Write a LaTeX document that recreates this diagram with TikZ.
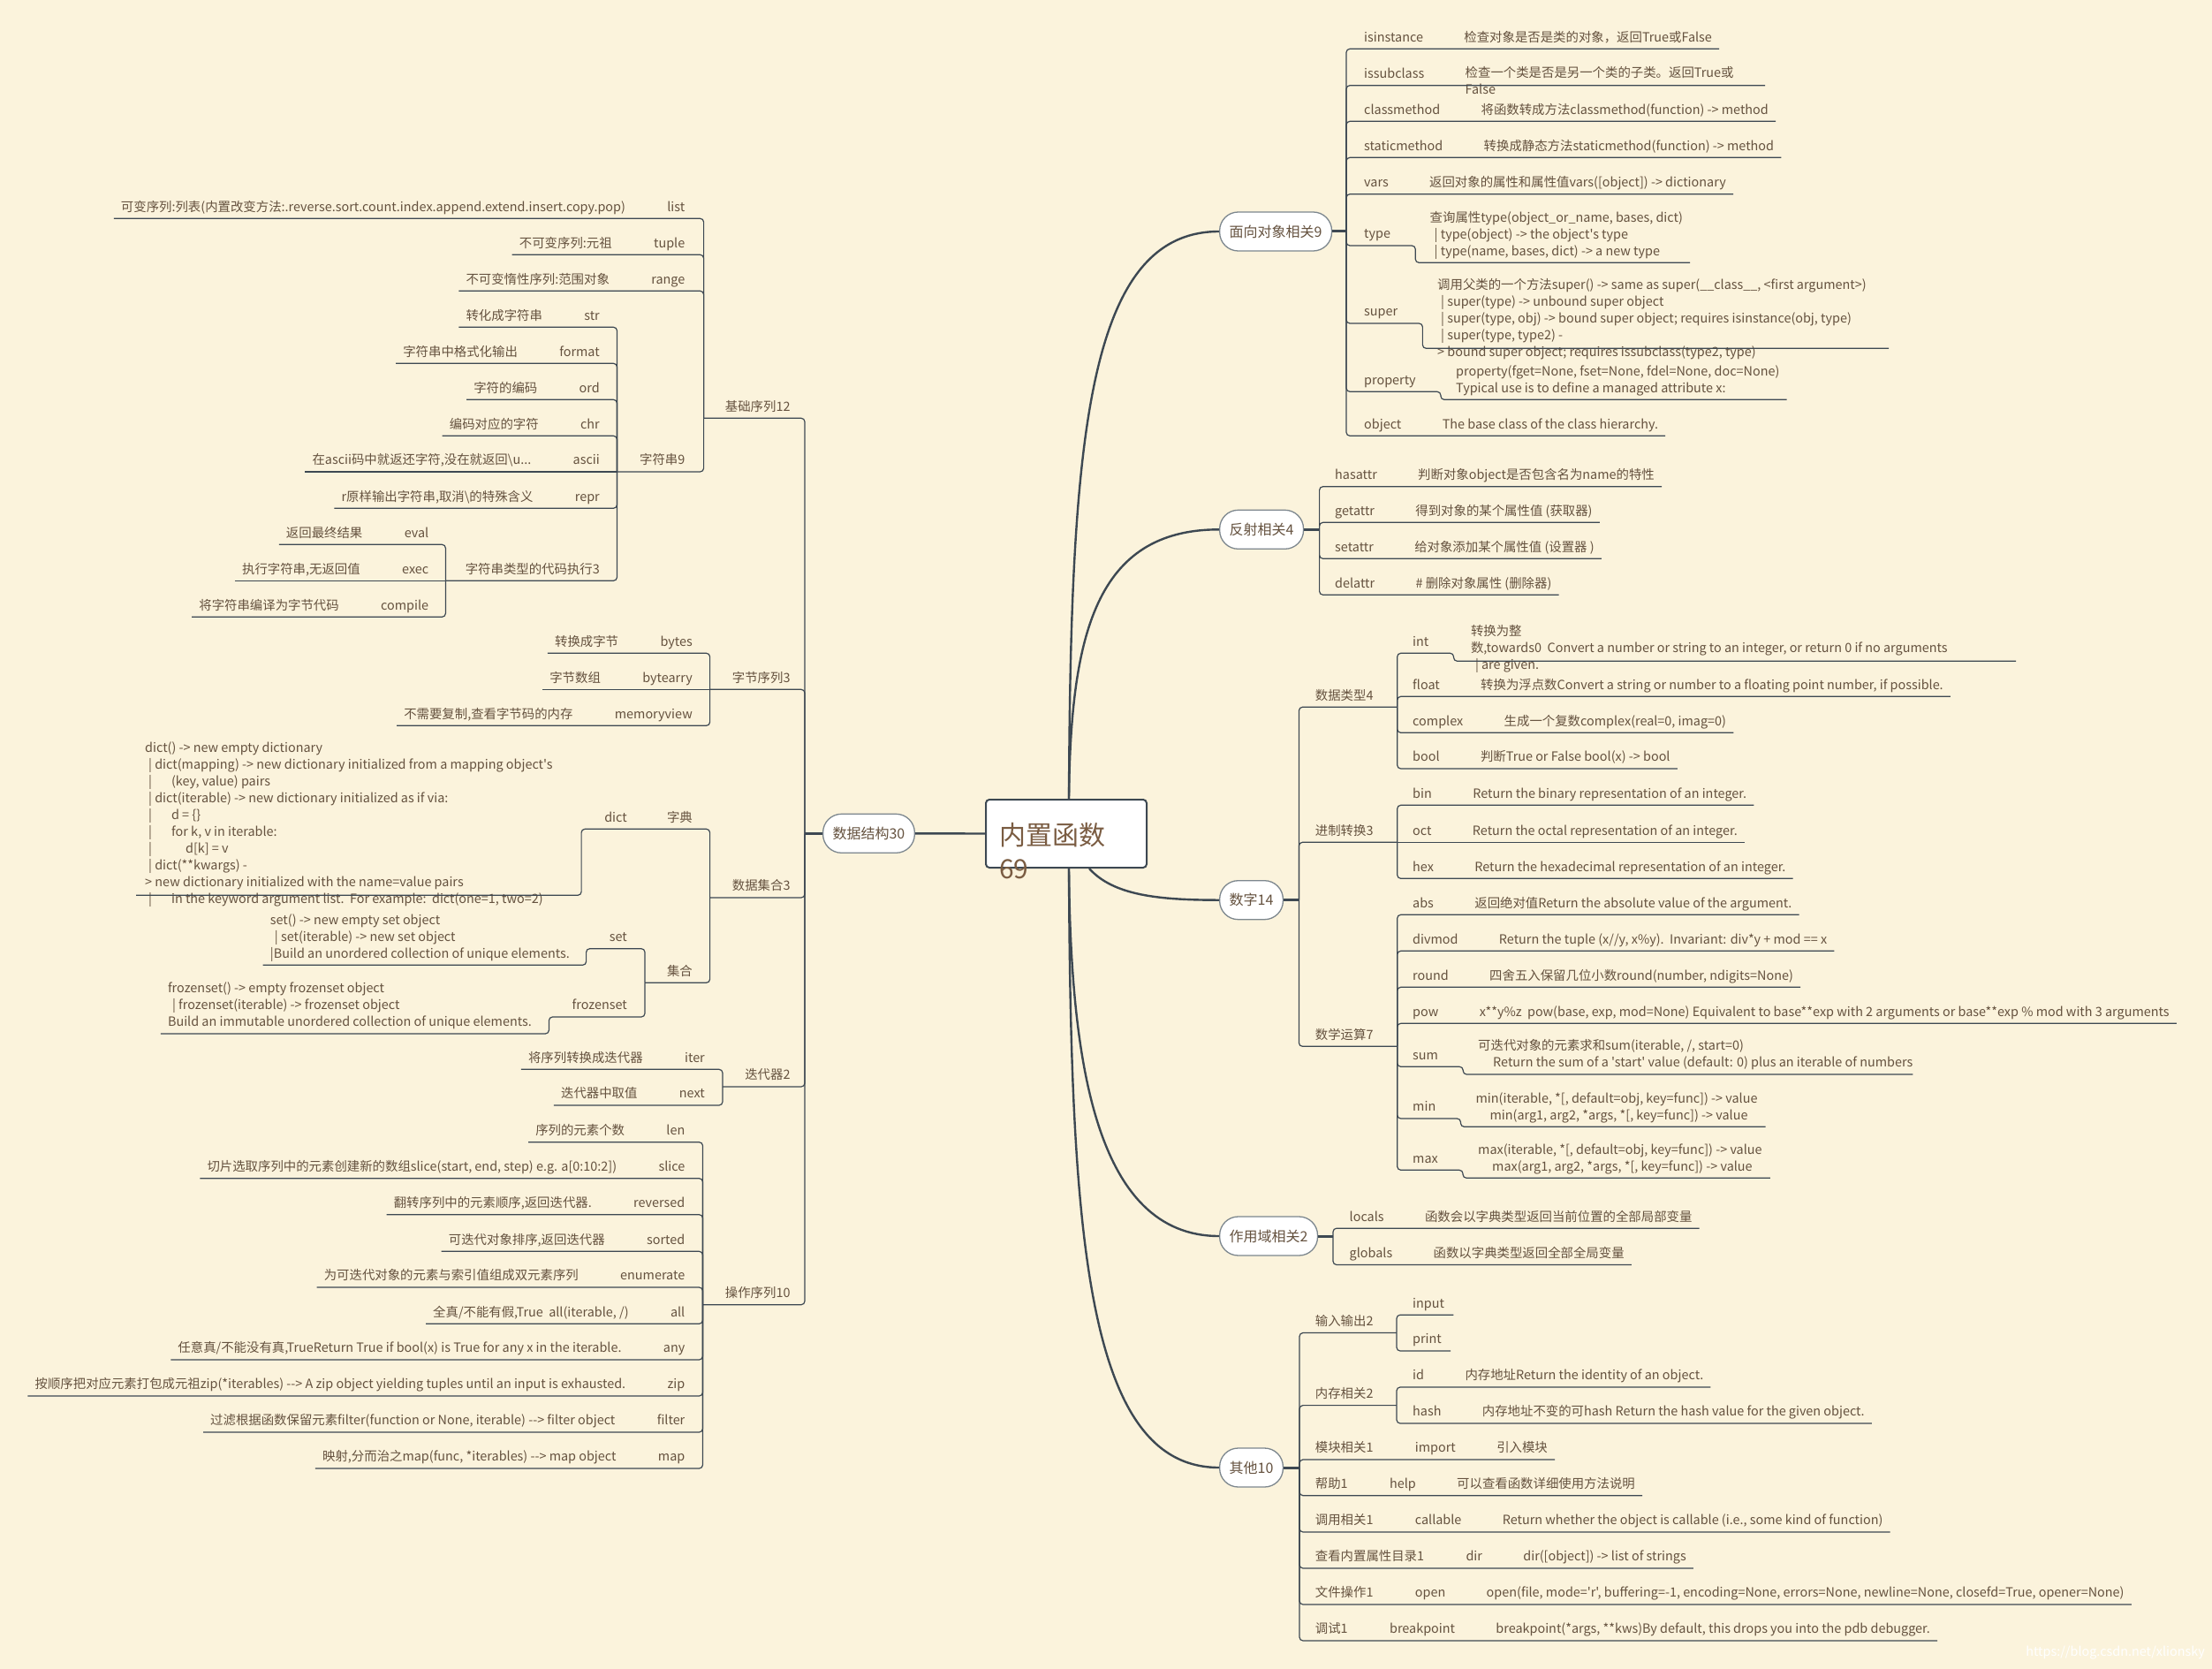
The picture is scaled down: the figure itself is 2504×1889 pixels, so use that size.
\documentclass[tikz,border=0pt]{standalone}
\usepackage{fontspec}
\setmainfont{Noto Sans CJK SC}[Ligatures=TeXOff]
\usetikzlibrary{positioning}
\definecolor{bgc}{HTML}{FBF3DC}
\definecolor{linec}{HTML}{3D4852}
\definecolor{txtc}{HTML}{65523F}
\definecolor{rootc}{HTML}{7A5C42}
\definecolor{bordc}{HTML}{7D878E}
\tikzset{
  tx/.style={text=txtc, inner xsep=0pt, inner ysep=2.3pt, align=left,
    font=\fontsize{14.4}{19}\selectfont,
    execute at begin node=\strut, execute at end node=\strut},
  rl/.style={tx, anchor=south west},
  ll/.style={tx, anchor=south east},
  conn/.style={draw=linec, line width=1.2pt, rounded corners=4pt},
  trunk/.style={draw=linec, line width=2.4pt},
  stub/.style={draw=linec, line width=3pt},
  branch/.style={draw=bordc, fill=white, line width=1.3pt, rounded corners=21pt,
    minimum height=44pt, inner xsep=11pt, text=txtc, font=\fontsize{16}{19}\selectfont},
  rootbox/.style={draw=linec, fill=white, line width=2pt, rounded corners=4pt,
    minimum width=182pt, minimum height=77pt},
  roottxt/.style={text=rootc, inner sep=0pt, align=left,
    font=\fontsize{30}{38}\selectfont, execute at begin node=\strut}
}
\begin{document}
\begin{tikzpicture}[x=1pt,y=-1pt]
\useasboundingbox (0,0) rectangle (2504,1889);
\fill[bgc] (0,0) rectangle (2504,1889);

\node[rootbox] (root) at (1207,943.5) {};
\node[roottxt, anchor=north west] (root-t) at (1131,931.4) {内置函数\\69};

\node[branch, anchor=west] (oop) at (1380,262) {面向对象相关9};
\node[branch, anchor=west] (refl) at (1380,599.3) {反射相关4};
\node[branch, anchor=west] (num) at (1380,1018.7) {数字14};
\node[branch, anchor=west] (scope) at (1380,1399) {作用域相关2};
\node[branch, anchor=west] (misc) at (1380,1661) {其他10};
\node[branch, anchor=east] (ds) at (1036,943.3) {数据结构30};

\draw[trunk] ([xshift=3pt]root.north) .. controls +(2,-405) and +(-150,0) .. (oop.west);
\draw[trunk] ([xshift=3pt]root.north) .. controls +(2,-185) and +(-140,0) .. (refl.west);
\draw[trunk] ([xshift=26pt]root.south) .. controls +(27,30) and +(-70,0) .. (num.west);
\draw[trunk] ([xshift=3pt]root.south) .. controls +(2,218) and +(-140,0) .. (scope.west);
\draw[trunk] ([xshift=3pt]root.south) .. controls +(2,418) and +(-150,0) .. (misc.west);
\draw[trunk] (root.west) -- (ds.east);

\coordinate (A-j) at (1524,262);
\coordinate (B-j) at (1493.6,599.3);
\coordinate (C-j) at (1470.4,1018.7);
\coordinate (D-j) at (1509,1399);
\coordinate (E-j) at (1471,1661);
\coordinate (F-j) at (911,943.3);
\draw[stub] (oop.east) -- (A-j);
\draw[stub] (refl.east) -- (B-j);
\draw[stub] (num.east) -- (C-j);
\draw[stub] (scope.east) -- (D-j);
\draw[stub] (misc.east) -- (E-j);
\draw[stub] (ds.west) -- (F-j);

\node[rl] (isinstance) at (1544,55.3) {isinstance};
\node[right=46pt of isinstance.south east, rl] (isinstance-d) {检查对象是否是类的对象，返回True或False};
\draw[conn] (A-j) |- ([xshift=8pt]isinstance-d.south east);
\node[rl] (issubclass) at (1544,96.7) {issubclass};
\node[right=46pt of issubclass.north east, tx, anchor=north west] (issubclass-d) {检查一个类是否是另一个类的子类。返回True或\\False};
\coordinate (issubclass-u) at (1998,96.7);
\draw[conn] (A-j) |- (issubclass-u);
\node[rl] (classmethod) at (1544,137.3) {classmethod};
\node[right=46pt of classmethod.south east, rl] (classmethod-d) {将函数转成方法classmethod(function) -> method};
\draw[conn] (A-j) |- ([xshift=8pt]classmethod-d.south east);
\node[rl] (staticmethod) at (1544,178.3) {staticmethod};
\node[right=46pt of staticmethod.south east, rl] (staticmethod-d) {转换成静态方法staticmethod(function) -> method};
\draw[conn] (A-j) |- ([xshift=8pt]staticmethod-d.south east);
\node[rl] (vars) at (1544,219.7) {vars};
\node[right=46pt of vars.south east, rl] (vars-d) {返回对象的属性和属性值vars([object]) -> dictionary};
\draw[conn] (A-j) |- ([xshift=8pt]vars-d.south east);
\node[rl] (type) at (1544,278) {type};
\node[rl] (type-d) at (1618.5,297.3) {查询属性type(object\_or\_name, bases, dict)\\\hspace{5pt}| type(object) -> the object's type\\\hspace{5pt}| type(name, bases, dict) -> a new type};
\draw[conn] (A-j) |- ([xshift=28pt]type.south east) |- ([xshift=8pt]type-d.south east);
\node[rl] (super) at (1544,366) {super};
\node[tx, anchor=north west] (super-d) at (1627,312.4) {调用父类的一个方法super() -> same as super(\_\_class\_\_, <first argument>)\\\hspace{4pt}| super(type) -> unbound super object\\\hspace{4pt}| super(type, obj) -> bound super object; requires isinstance(obj, type)\\\hspace{4pt}| super(type, type2) -\\> bound super object; requires issubclass(type2, type)};
\coordinate (super-u) at (2138,394.3);
\draw[conn] (A-j) |- ([xshift=28pt]super.south east) |- (super-u);
\node[rl] (property) at (1544,443.3) {property};
\node[rl] (property-d) at (1648,452.3) {property(fget=None, fset=None, fdel=None, doc=None)\\Typical use is to define a managed attribute x:};
\draw[conn] (A-j) |- ([xshift=28pt]property.south east) |- ([xshift=8pt]property-d.south east);
\node[rl] (object) at (1544,493.3) {object};
\node[right=46pt of object.south east, rl] (object-d) {The base class of the class hierarchy.};
\draw[conn] (A-j) |- ([xshift=8pt]object-d.south east);

\node[rl] (hasattr) at (1511,550.7) {hasattr};
\node[right=46pt of hasattr.south east, rl] (hasattr-d) {判断对象object是否包含名为name的特性};
\draw[conn] (B-j) |- ([xshift=8pt]hasattr-d.south east);
\node[rl] (getattr) at (1511,591.3) {getattr};
\node[right=46pt of getattr.south east, rl] (getattr-d) {得到对象的某个属性值 (获取器)};
\draw[conn] (B-j) |- ([xshift=8pt]getattr-d.south east);
\node[rl] (setattr) at (1511,632.3) {setattr};
\node[right=46pt of setattr.south east, rl] (setattr-d) {给对象添加某个属性值 (设置器 )};
\draw[conn] (B-j) |- ([xshift=8pt]setattr-d.south east);
\node[rl] (delattr) at (1511,673.3) {delattr};
\node[right=46pt of delattr.south east, rl] (delattr-d) {\# 删除对象属性 (删除器)};
\draw[conn] (B-j) |- ([xshift=8pt]delattr-d.south east);

\node[rl] (dtype) at (1488.7,800.3) {数据类型4};
\coordinate (C1-j) at (1581.7,800.3);
\draw[conn] (C-j) |- (C1-j);
\node[rl] (int) at (1599,739.3) {int};
\node[tx, anchor=north west] (int-d) at (1664.8,705.1) {转换为整\\数,towards0\ \ Convert a number or string to an integer, or return 0 if no arguments\\\hspace{5pt}| are given.};
\coordinate (int-u) at (2282,748.3);
\draw[conn] (C1-j) |- ([xshift=28pt]int.south east) |- (int-u);
\node[rl] (float) at (1599,788.3) {float};
\node[right=46pt of float.south east, rl] (float-d) {转换为浮点数Convert a string or number to a floating point number, if possible.};
\draw[conn] (C1-j) |- ([xshift=8pt]float-d.south east);
\node[rl] (complex) at (1599,829.3) {complex};
\node[right=46pt of complex.south east, rl] (complex-d) {生成一个复数complex(real=0, imag=0)};
\draw[conn] (C1-j) |- ([xshift=8pt]complex-d.south east);
\node[rl] (bool) at (1599,870) {bool};
\node[right=46pt of bool.south east, rl] (bool-d) {判断True or False bool(x) -> bool};
\draw[conn] (C1-j) |- ([xshift=8pt]bool-d.south east);

\node[rl] (base) at (1488.7,953.3) {进制转换3};
\coordinate (C2-j) at (1581.7,953.3);
\draw[conn] (C-j) |- (C2-j);
\node[rl] (bin) at (1599,911.3) {bin};
\node[right=46pt of bin.south east, rl] (bin-d) {Return the binary representation of an integer.};
\draw[conn] (C2-j) |- ([xshift=8pt]bin-d.south east);
\node[rl] (oct) at (1599,953.3) {oct};
\node[right=46pt of oct.south east, rl] (oct-d) {Return the octal representation of an integer.};
\draw[conn] (C2-j) -- ([xshift=8pt]oct-d.south east);
\node[rl] (hex) at (1599,994.3) {hex};
\node[right=46pt of hex.south east, rl] (hex-d) {Return the hexadecimal representation of an integer.};
\draw[conn] (C2-j) |- ([xshift=8pt]hex-d.south east);

\node[rl] (math) at (1488.7,1184.3) {数学运算7};
\coordinate (C3-j) at (1581.7,1184.3);
\draw[conn] (C-j) |- (C3-j);
\node[rl] (abs) at (1599,1035.3) {abs};
\node[right=46pt of abs.south east, rl] (abs-d) {返回绝对值Return the absolute value of the argument.};
\draw[conn] (C3-j) |- ([xshift=8pt]abs-d.south east);
\node[rl] (divmod) at (1599,1076.3) {divmod};
\node[right=46pt of divmod.south east, rl] (divmod-d) {Return the tuple (x//y, x\%y).\ \ Invariant: div*y + mod == x};
\draw[conn] (C3-j) |- ([xshift=8pt]divmod-d.south east);
\node[rl] (round) at (1599,1117.3) {round};
\node[right=46pt of round.south east, rl] (round-d) {四舍五入保留几位小数round(number, ndigits=None)};
\draw[conn] (C3-j) |- ([xshift=8pt]round-d.south east);
\node[rl] (pow) at (1599,1158.3) {pow};
\node[right=46pt of pow.south east, rl] (pow-d) {x**y\%z\ \ pow(base, exp, mod=None) Equivalent to base**exp with 2 arguments or base**exp \% mod with 3 arguments};
\draw[conn] (C3-j) |- ([xshift=8pt]pow-d.south east);
\node[rl] (sum) at (1599,1207.3) {sum};
\node[rl] (sum-d) at (1673,1216) {可迭代对象的元素求和sum(iterable, /, start=0)\\\hspace{17pt}Return the sum of a 'start' value (default: 0) plus an iterable of numbers};
\draw[conn] (C3-j) |- ([xshift=28pt]sum.south east) |- (sum-d.south east);
\node[rl] (min) at (1599,1266) {min};
\node[rl] (min-d) at (1670.4,1275.3) {min(iterable, *[, default=obj, key=func]) -> value\\\hspace{16pt}min(arg1, arg2, *args, *[, key=func]) -> value};
\draw[conn] (C3-j) |- ([xshift=28pt]min.south east) |- ([xshift=9pt]min-d.south east);
\node[rl] (max) at (1599,1324.3) {max};
\node[rl] (max-d) at (1673,1333.3) {max(iterable, *[, default=obj, key=func]) -> value\\\hspace{16pt}max(arg1, arg2, *args, *[, key=func]) -> value};
\draw[conn] (C3-j) |- ([xshift=28pt]max.south east) |- ([xshift=9pt]max-d.south east);

\node[rl] (locals) at (1527.5,1390.2) {locals};
\node[right=46pt of locals.south east, rl] (locals-d) {函数会以字典类型返回当前位置的全部局部变量};
\draw[conn] (D-j) |- ([xshift=8pt]locals-d.south east);
\node[rl] (globals) at (1527.5,1431.5) {globals};
\node[right=46pt of globals.south east, rl] (globals-d) {函数以字典类型返回全部全局变量};
\draw[conn] (D-j) |- ([xshift=8pt]globals-d.south east);

\node[rl] (io) at (1488.7,1508.5) {输入输出2};
\coordinate (E1-j) at (1581,1508.5);
\draw[conn] (E-j) |- (E1-j);
\node[rl] (input) at (1599,1488.2) {input};
\draw[conn] (E1-j) |- ([xshift=10pt]input.south east);
\node[rl] (print) at (1599,1529) {print};
\draw[conn] (E1-j) |- ([xshift=10pt]print.south east);
\node[rl] (mem) at (1488.7,1590.6) {内存相关2};
\coordinate (E2-j) at (1581,1590.6);
\draw[conn] (E-j) |- (E2-j);
\node[rl] (id) at (1599,1570) {id};
\node[right=46pt of id.south east, rl] (id-d) {内存地址Return the identity of an object.};
\draw[conn] (E2-j) |- ([xshift=8pt]id-d.south east);
\node[rl] (hash) at (1599,1611) {hash};
\node[right=46pt of hash.south east, rl] (hash-d) {内存地址不变的可hash Return the hash value for the given object.};
\draw[conn] (E2-j) |- ([xshift=8pt]hash-d.south east);
\node[rl] (modu) at (1488.7,1652) {模块相关1};
\node[right=47pt of modu.south east, rl] (import) {import};
\node[right=46pt of import.south east, rl] (import-d) {引入模块};
\draw[conn] (E-j) |- ([xshift=8pt]import-d.south east);
\node[rl] (helpg) at (1488.7,1692.7) {帮助1};
\node[right=47pt of helpg.south east, rl] (help) {help};
\node[right=46pt of help.south east, rl] (help-d) {可以查看函数详细使用方法说明};
\draw[conn] (E-j) |- ([xshift=8pt]help-d.south east);
\node[rl] (callg) at (1488.7,1734) {调用相关1};
\node[right=47pt of callg.south east, rl] (callable) {callable};
\node[right=46pt of callable.south east, rl] (callable-d) {Return whether the object is callable (i.e., some kind of function)};
\draw[conn] (E-j) |- ([xshift=8pt]callable-d.south east);
\node[rl] (dirg) at (1488.7,1775) {查看内置属性目录1};
\node[right=47pt of dirg.south east, rl] (dir) {dir};
\node[right=46pt of dir.south east, rl] (dir-d) {dir([object]) -> list of strings};
\draw[conn] (E-j) |- ([xshift=8pt]dir-d.south east);
\node[rl] (fileg) at (1488.7,1816) {文件操作1};
\node[right=47pt of fileg.south east, rl] (open) {open};
\node[right=46pt of open.south east, rl] (open-d) {open(file, mode='r', buffering=-1, encoding=None, errors=None, newline=None, closefd=True, opener=None)};
\draw[conn] (E-j) |- ([xshift=8pt]open-d.south east);
\node[rl] (debugg) at (1488.7,1857) {调试1};
\node[right=47pt of debugg.south east, rl] (breakpoint) {breakpoint};
\node[right=46pt of breakpoint.south east, rl] (breakpoint-d) {breakpoint(*args, **kws)By default, this drops you into the pdb debugger.};
\draw[conn] (E-j) |- ([xshift=8pt]breakpoint-d.south east);

\node[ll] (seq) at (894.7,473.3) {基础序列12};
\coordinate (F1-j) at (796.6,473.3);
\draw[conn] (F1-j) -| (F-j);
\node[ll] (list) at (775.5,247.3) {list};
\node[left=47pt of list.south west, ll] (list-d) {可变序列:列表(内置改变方法:.reverse.sort.count.index.append.extend.insert.copy.pop)};
\draw[conn] ([xshift=-8pt]list-d.south west) -| (F1-j);
\node[ll] (tuple) at (775.5,288.3) {tuple};
\node[left=47pt of tuple.south west, ll] (tuple-d) {不可变序列:元祖};
\draw[conn] ([xshift=-8pt]tuple-d.south west) -| (F1-j);
\node[ll] (range) at (775.5,329.3) {range};
\node[left=47pt of range.south west, ll] (range-d) {不可变惰性序列:范围对象};
\draw[conn] ([xshift=-8pt]range-d.south west) -| (F1-j);
\node[ll] (strs) at (775.5,534) {字符串9};
\coordinate (F1s-j) at (698.5,534);
\draw[conn] (F1s-j) -| (F1-j);
\node[ll] (str) at (679,370.3) {str};
\node[left=47pt of str.south west, ll] (str-d) {转化成字符串};
\draw[conn] ([xshift=-8pt]str-d.south west) -| (F1s-j);
\node[ll] (format) at (679,411.3) {format};
\node[left=47pt of format.south west, ll] (format-d) {字符串中格式化输出};
\draw[conn] ([xshift=-8pt]format-d.south west) -| (F1s-j);
\node[ll] (ord) at (679,452.3) {ord};
\node[left=47pt of ord.south west, ll] (ord-d) {字符的编码};
\draw[conn] ([xshift=-8pt]ord-d.south west) -| (F1s-j);
\node[ll] (chr) at (679,493.3) {chr};
\node[left=47pt of chr.south west, ll] (chr-d) {编码对应的字符};
\draw[conn] ([xshift=-8pt]chr-d.south west) -| (F1s-j);
\node[ll] (ascii) at (679,534) {ascii};
\node[left=47pt of ascii.south west, ll] (ascii-d) {在ascii码中就返还字符,没在就返回\textbackslash u...};
\draw[conn] ([xshift=-8pt]ascii-d.south west) -- (F1s-j);
\node[ll] (repr) at (679,575.3) {repr};
\node[left=47pt of repr.south west, ll] (repr-d) {r原样输出字符串,取消\textbackslash 的特殊含义};
\draw[conn] ([xshift=-8pt]repr-d.south west) -| (F1s-j);
\node[ll] (strexec) at (679,657.3) {字符串类型的代码执行3};
\coordinate (F1e-j) at (504.4,657.3);
\draw[conn] (F1e-j) -| (F1s-j);
\node[ll] (eval) at (485.4,616.3) {eval};
\node[left=47pt of eval.south west, ll] (eval-d) {返回最终结果};
\draw[conn] ([xshift=-8pt]eval-d.south west) -| (F1e-j);
\node[ll] (exec) at (485.4,657.3) {exec};
\node[left=47pt of exec.south west, ll] (exec-d) {执行字符串,无返回值};
\draw[conn] ([xshift=-8pt]exec-d.south west) -- (F1e-j);
\node[ll] (compile) at (485.4,698.3) {compile};
\node[left=47pt of compile.south west, ll] (compile-d) {将字符串编译为字节代码};
\draw[conn] ([xshift=-8pt]compile-d.south west) -| (F1e-j);

\node[ll] (byteseq) at (894.7,780.3) {字节序列3};
\coordinate (F2-j) at (803.6,780.3);
\draw[conn] (F2-j) -| (F-j);
\node[ll] (bytes) at (784,739.3) {bytes};
\node[left=47pt of bytes.south west, ll] (bytes-d) {转换成字节};
\draw[conn] ([xshift=-8pt]bytes-d.south west) -| (F2-j);
\node[ll] (bytearry) at (784,780.3) {bytearry};
\node[left=47pt of bytearry.south west, ll] (bytearry-d) {字节数组};
\draw[conn] ([xshift=-8pt]bytearry-d.south west) -- (F2-j);
\node[ll] (memoryview) at (784,821.3) {memoryview};
\node[left=47pt of memoryview.south west, ll] (memoryview-d) {不需要复制,查看字节码的内存};
\draw[conn] ([xshift=-8pt]memoryview-d.south west) -| (F2-j);

\node[ll] (dcoll) at (894.7,1016) {数据集合3};
\coordinate (F3-j) at (803.6,1016);
\draw[conn] (F3-j) -| (F-j);
\node[ll] (zidian) at (784,938.3) {字典};
\node[ll] (dict) at (710,938.3) {dict};
\node[tx, anchor=north west] (dict-d) at (164,837.7) {dict() -> new empty dictionary\\\hspace{4pt}| dict(mapping) -> new dictionary initialized from a mapping object's\\\hspace{4pt}|\hspace{22pt}(key, value) pairs\\\hspace{4pt}| dict(iterable) -> new dictionary initialized as if via:\\\hspace{4pt}|\hspace{22pt}d = \{\}\\\hspace{4pt}|\hspace{22pt}for k, v in iterable:\\\hspace{4pt}|\hspace{38pt}d[k] = v\\\hspace{4pt}| dict(**kwargs) -\\> new dictionary initialized with the name=value pairs\\\hspace{4pt}|\hspace{22pt}in the keyword argument list.\ \ For example:\ \ dict(one=1, two=2)};
\coordinate (dict-u) at (154,1013.3);
\draw[conn] (dict-u) -| ([xshift=-26pt]dict.south west) -| (F3-j);
\node[ll] (jihe) at (784,1112.3) {集合};
\coordinate (F3s-j) at (730,1112.3);
\draw[conn] (F3s-j) -| (F3-j);
\node[ll] (set) at (710,1073.7) {set};
\node[ll] (set-d) at (645,1092.3) {set() -> new empty set object\\\hspace{5pt}| set(iterable) -> new set object\\|Build an unordered collection of unique elements.};
\draw[conn] ([xshift=-8pt]set-d.south west) -| ([xshift=-26pt]set.south west) -| (F3s-j);
\node[ll] (frozenset) at (710,1151) {frozenset};
\node[ll] (frozenset-d) at (602,1170) {frozenset() -> empty frozenset object\\\hspace{5pt}| frozenset(iterable) -> frozenset object\\Build an immutable unordered collection of unique elements.};
\draw[conn] ([xshift=-8pt]frozenset-d.south west) -| ([xshift=-26pt]frozenset.south west) -| (F3s-j);

\node[ll] (iters) at (894.7,1230) {迭代器2};
\coordinate (F4-j) at (818,1230);
\draw[conn] (F4-j) -| (F-j);
\node[ll] (iter) at (798,1210.3) {iter};
\node[left=47pt of iter.south west, ll] (iter-d) {将序列转换成迭代器};
\draw[conn] ([xshift=-8pt]iter-d.south west) -| (F4-j);
\node[ll] (next) at (798,1251) {next};
\node[left=47pt of next.south west, ll] (next-d) {迭代器中取值};
\draw[conn] ([xshift=-8pt]next-d.south west) -| (F4-j);

\node[ll] (seqop) at (894.7,1476.7) {操作序列10};
\coordinate (F5-j) at (795.5,1476.7);
\draw[conn] (F5-j) -| (F-j);
\node[ll] (len) at (775.5,1292.7) {len};
\node[left=47pt of len.south west, ll] (len-d) {序列的元素个数};
\draw[conn] ([xshift=-8pt]len-d.south west) -| (F5-j);
\node[ll] (slice) at (775.5,1333.7) {slice};
\node[left=47pt of slice.south west, ll] (slice-d) {切片选取序列中的元素创建新的数组slice(start, end, step) e.g. a[0:10:2])};
\draw[conn] ([xshift=-8pt]slice-d.south west) -| (F5-j);
\node[ll] (reversed) at (775.5,1374.7) {reversed};
\node[left=47pt of reversed.south west, ll] (reversed-d) {翻转序列中的元素顺序,返回迭代器.};
\draw[conn] ([xshift=-8pt]reversed-d.south west) -| (F5-j);
\node[ll] (sorted) at (775.5,1416.3) {sorted};
\node[left=47pt of sorted.south west, ll] (sorted-d) {可迭代对象排序,返回迭代器};
\draw[conn] ([xshift=-8pt]sorted-d.south west) -| (F5-j);
\node[ll] (enumerate) at (775.5,1457) {enumerate};
\node[left=47pt of enumerate.south west, ll] (enumerate-d) {为可迭代对象的元素与索引值组成双元素序列};
\draw[conn] ([xshift=-8pt]enumerate-d.south west) -| (F5-j);
\node[ll] (all) at (775.5,1498.3) {all};
\node[left=47pt of all.south west, ll] (all-d) {全真/不能有假,True\ \ all(iterable, /)};
\draw[conn] ([xshift=-8pt]all-d.south west) -| (F5-j);
\node[ll] (any) at (775.5,1539) {any};
\node[left=47pt of any.south west, ll] (any-d) {任意真/不能没有真,TrueReturn True if bool(x) is True for any x in the iterable.};
\draw[conn] ([xshift=-8pt]any-d.south west) -| (F5-j);
\node[ll] (zip) at (775.5,1580) {zip};
\node[left=47pt of zip.south west, ll] (zip-d) {按顺序把对应元素打包成元祖zip(*iterables) --> A zip object yielding tuples until an input is exhausted.};
\draw[conn] ([xshift=-8pt]zip-d.south west) -| (F5-j);
\node[ll] (filter) at (775.5,1621) {filter};
\node[left=47pt of filter.south west, ll] (filter-d) {过滤根据函数保留元素filter(function or None, iterable) --> filter object};
\draw[conn] ([xshift=-8pt]filter-d.south west) -| (F5-j);
\node[ll] (map) at (775.5,1662) {map};
\node[left=47pt of map.south west, ll] (map-d) {映射,分而治之map(func, *iterables) --> map object};
\draw[conn] ([xshift=-8pt]map-d.south west) -| (F5-j);

\node[tx, text=white, anchor=east] (mark) at (2496,1871) {https://blog.csdn.net/xlionsky};
\end{tikzpicture}
\end{document}
